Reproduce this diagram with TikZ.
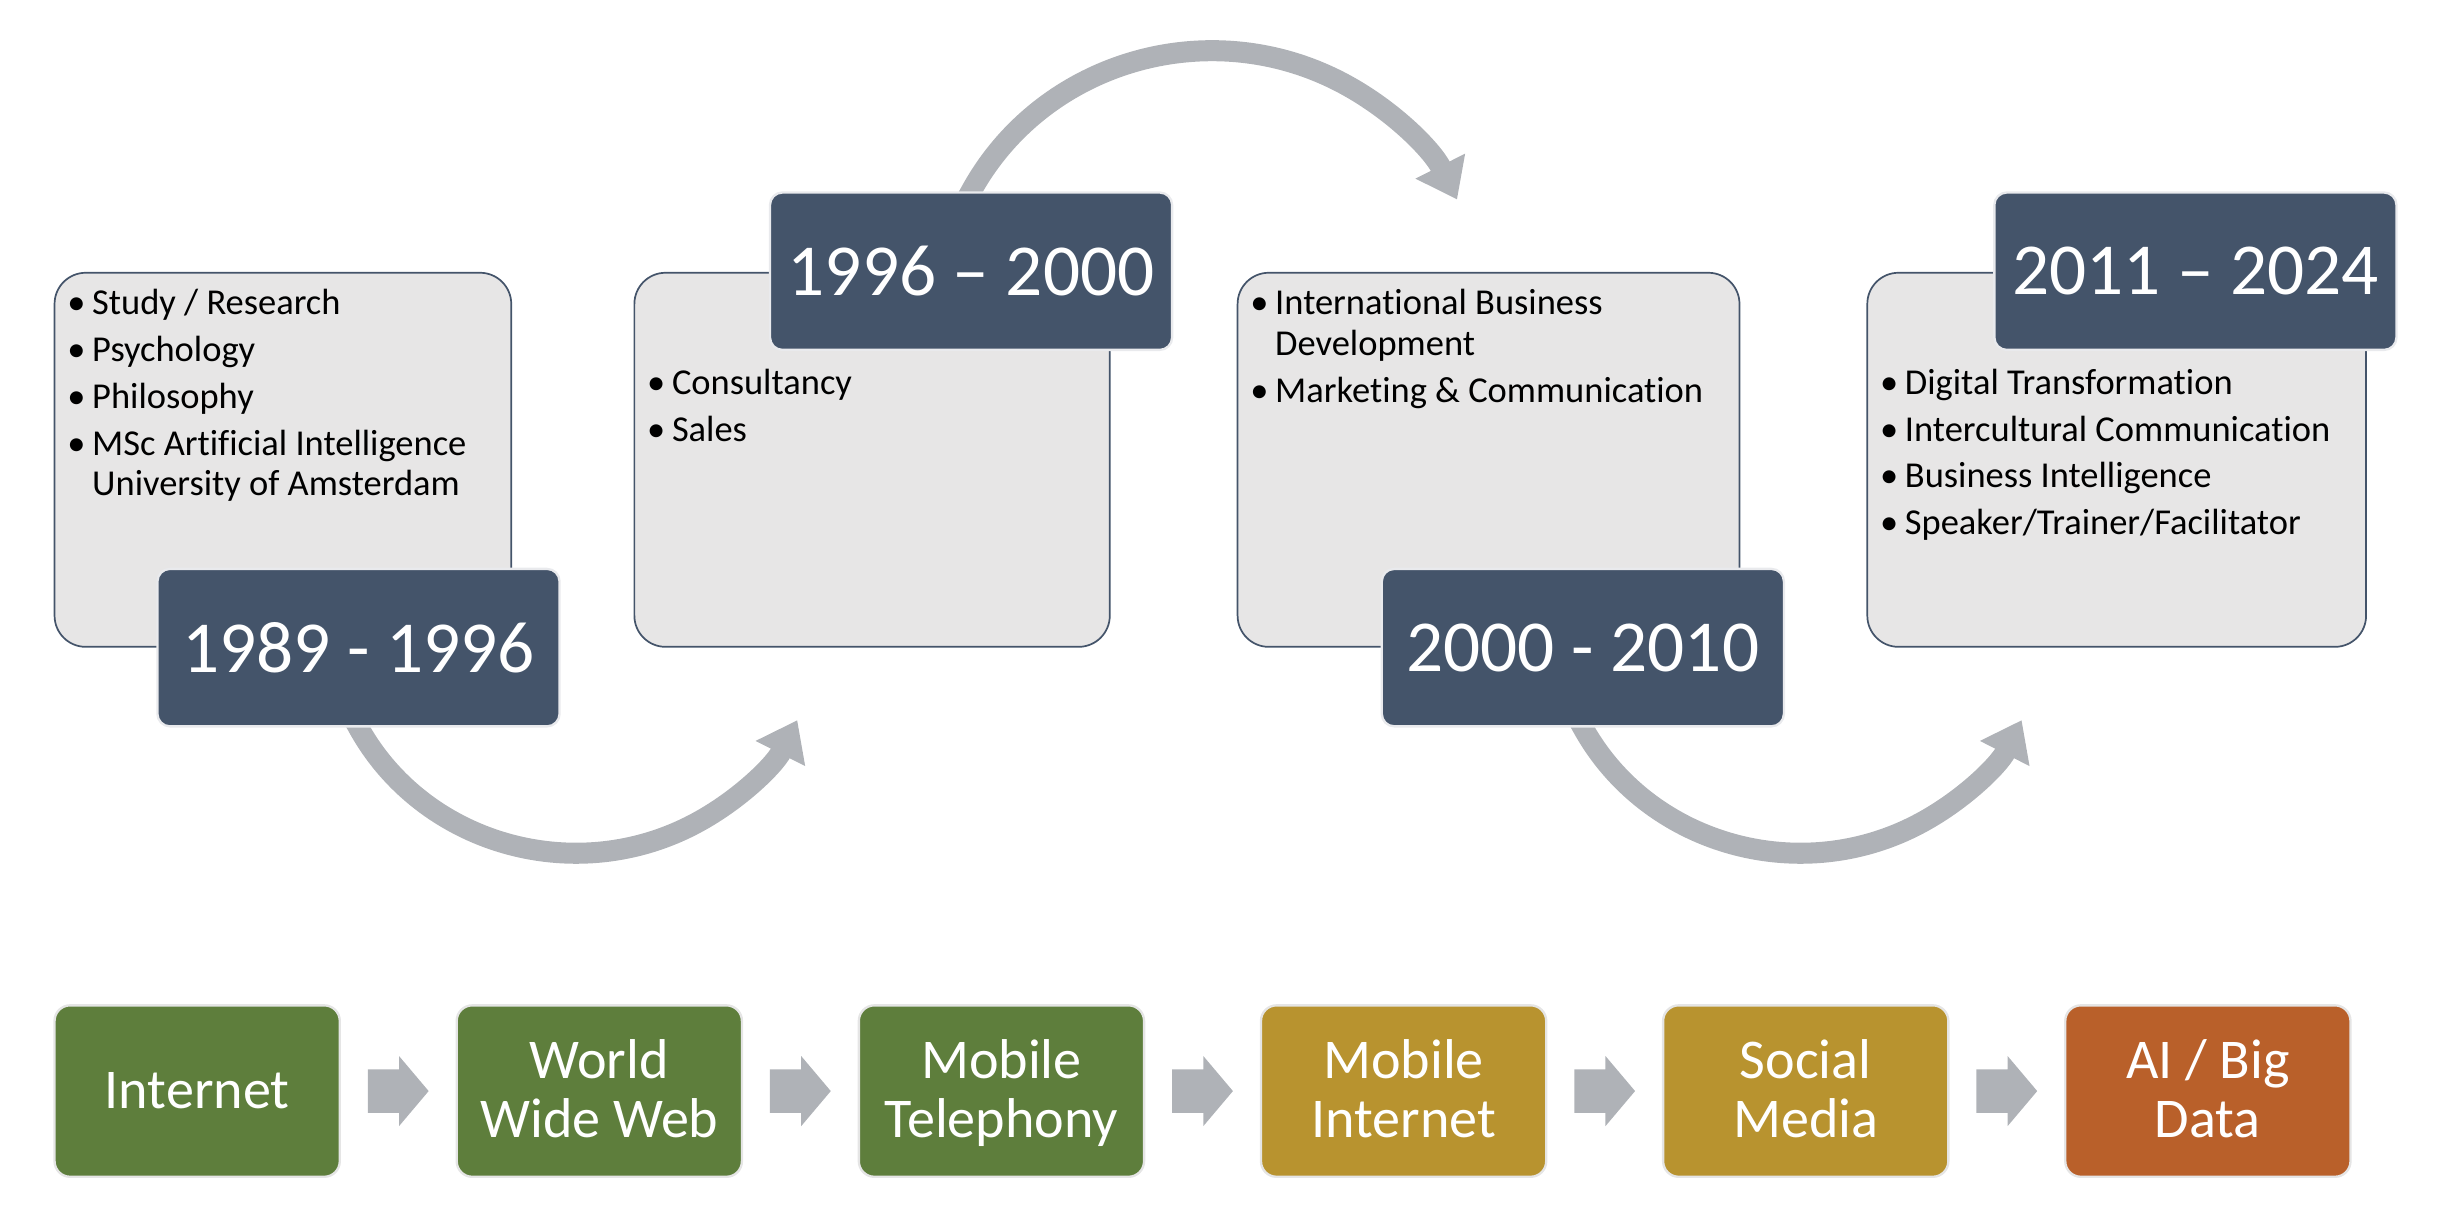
\documentclass[tikz,border=0pt]{standalone}
\usepackage{fontspec}
\setmainfont{Carlito}[Ligatures={TeX,NoCommon}]
\usetikzlibrary{arrows.meta,positioning,calc,backgrounds}

\definecolor{slate}{HTML}{44546A}
\definecolor{paper}{HTML}{E7E6E6}
\definecolor{arrowgray}{HTML}{AFB2B7}
\definecolor{webgreen}{HTML}{5E7E3C}
\definecolor{mobilegold}{HTML}{B8932F}
\definecolor{aiorange}{HTML}{B9602A}

\newcommand{\tstrut}{\rule[-7.9pt]{0pt}{38pt}}

\tikzset{
  infobox/.style={draw=slate, line width=1.1pt, fill=paper, rounded corners=20pt,
    minimum height=240pt, inner sep=0pt},
  datebox/.style={draw=white!88!slate, line width=1.5pt, fill=slate, rounded corners=8pt,
    minimum width=258pt, minimum height=101pt, inner sep=0pt, text=white,
    font=\fontsize{47}{50}\selectfont},
  techbox/.style={draw=white!90!black, line width=1.5pt, rounded corners=10pt,
    minimum width=183pt, minimum height=110pt, inner sep=0pt, text=white, align=center,
    font=\fontsize{36}{38}\selectfont},
  listtext/.style={anchor=base west, inner sep=0pt, font=\fontsize{23.4}{26}\selectfont},
  bigarrow/.style={draw=arrowgray, line width=13.5pt, line cap=rect,
    -{Triangle[length=24pt,width=34pt]}},
}

\begin{document}
\begin{tikzpicture}[x=1pt, y=1pt]
  \useasboundingbox (0,0) rectangle (1568,780);

  % Career boxes
  \node[infobox, minimum width=293pt] (b1) at (181.5,485) {};
  \node[infobox, minimum width=305pt] (b2) at (559.5,485) {};
  \node[infobox, minimum width=322pt] (b3) at (955,485) {};
  \node[infobox, minimum width=320pt] (b4) at (1358,485) {};

  % Periods
  \node[datebox] (d1) at (230,364.5) {1989 - 1996};
  \node[datebox] (d2) at (623,606) {1996 – 2000};
  \node[datebox] (d3) at (1015.5,364.5) {2000 - 2010};
  \node[datebox] (d4) at (1408.5,606) {2011 – 2024};

  % Activities
  \node[listtext] (l1) at ([xshift=8.5pt,yshift=-27.5pt]b1.north west) {%
    \begin{tabular}[t]{@{}p{16pt}@{}l@{}}
      • & Study / Research\\[4pt]
      • & Psychology\\[4pt]
      • & Philosophy\\[4pt]
      • & MSc Artificial Intelligence\\
        & University of Amsterdam
    \end{tabular}};
  \node[listtext] (l2) at ([xshift=8.5pt,yshift=-78.5pt]b2.north west) {%
    \begin{tabular}[t]{@{}p{16pt}@{}l@{}}
      • & Consultancy\\[4pt]
      • & Sales
    \end{tabular}};
  \node[listtext] (l3) at ([xshift=8.5pt,yshift=-27.5pt]b3.north west) {%
    \begin{tabular}[t]{@{}p{16pt}@{}l@{}}
      • & International Business\\
        & Development\\[4pt]
      • & Marketing \& Communication
    \end{tabular}};
  \node[listtext] (l4) at ([xshift=8.5pt,yshift=-78.5pt]b4.north west) {%
    \begin{tabular}[t]{@{}p{16pt}@{}l@{}}
      • & Digital Transformation\\[4pt]
      • & Intercultural Communication\\[4pt]
      • & Business Intelligence\\[4pt]
      • & Speaker/Trainer/Facilitator
    \end{tabular}};

  % Curved arrows between periods
  \begin{scope}[on background layer]
    \draw[bigarrow] (d1.south) arc[start angle=208, end angle=334, x radius=158, y radius=152];
    \draw[bigarrow] (d2.north) arc[start angle=152, end angle=26, x radius=175, y radius=170];
    \draw[bigarrow] (d3.south) arc[start angle=208, end angle=334, x radius=158, y radius=152];
  \end{scope}

  % Technology line
  \node[techbox, fill=webgreen] (t1) at (126.5,80) {\tstrut Internet};
  \node[techbox, fill=webgreen, right=73.5pt of t1] (t2) {\tstrut World\\\tstrut Wide Web};
  \node[techbox, fill=webgreen, right=73.5pt of t2] (t3) {\tstrut Mobile\\\tstrut Telephony};
  \node[techbox, fill=mobilegold, right=73.5pt of t3] (t4) {\tstrut Mobile\\\tstrut Internet};
  \node[techbox, fill=mobilegold, right=73.5pt of t4] (t5) {\tstrut Social\\\tstrut Media};
  \node[techbox, fill=aiorange, right=73.5pt of t5] (t6) {\tstrut AI / Big\\\tstrut Data};

  \foreach \a/\b in {t1/t2,t2/t3,t3/t4,t4/t5,t5/t6}
    \fill[arrowgray] ($(\a.east)!0.5!(\b.west)$) ++(-19.5,-14) -- ++(20,0) -- ++(0,-8.5)
      -- ++(19,22.5) -- ++(-19,22.5) -- ++(0,-8.5) -- ++(-20,0) -- cycle;
\end{tikzpicture}
\end{document}
